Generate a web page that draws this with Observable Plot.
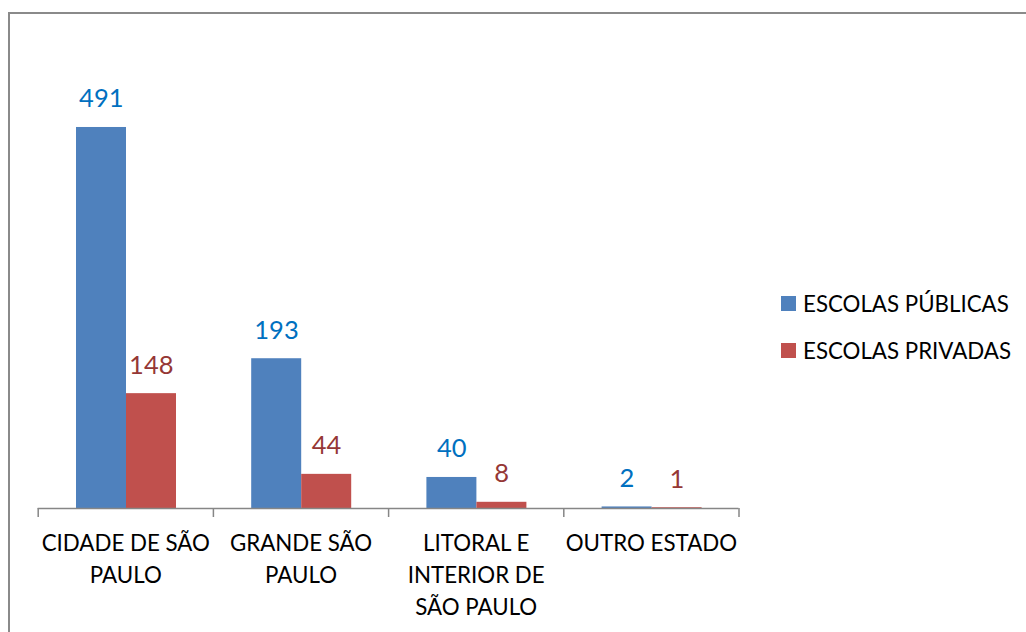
<!DOCTYPE html>
<html><head><meta charset="utf-8">
<script src="https://cdn.jsdelivr.net/npm/d3@7"></script>
<script src="https://cdn.jsdelivr.net/npm/@observablehq/plot@0.6"></script>
<style>
body{margin:0;background:#fff;}
#wrap{position:relative;width:1026px;height:632px;overflow:hidden;font-family:Lato,sans-serif;}
#border{position:absolute;left:8px;top:12px;width:2000px;height:2000px;border-left:2px solid #8a8a8a;border-top:2px solid #8a8a8a;box-sizing:border-box;}
#chart{position:absolute;left:0;top:0;}
#legend{position:absolute;left:781px;top:280px;font-size:22.3px;color:#000;}
.row{display:flex;align-items:center;height:47px;}
.sw{width:15px;height:15px;margin-right:7px;}
</style></head>
<body><div id="wrap"><div id="border"></div><div id="chart"></div><div id="legend"></div></div>
<script>
const categories = ["CIDADE DE SÃO\nPAULO", "GRANDE SÃO\nPAULO", "LITORAL E\nINTERIOR DE\nSÃO PAULO", "OUTRO ESTADO"];
const series = ["ESCOLAS PÚBLICAS", "ESCOLAS PRIVADAS"];
const publicas = [491, 193, 40, 2];
const privadas = [148, 44, 8, 1];
const barColors = ["#4F81BD", "#C0504D"];
const labelColors = ["#0070C0", "#953735"];

const rows = categories.map((c, i) => ({cat: c, i, publicas: publicas[i], privadas: privadas[i]}));
const font = "Lato, sans-serif";

const chart = Plot.plot({
  width: 1026,
  height: 632,
  marginLeft: 37.7,
  marginRight: 287.5,
  marginTop: 42.4,
  marginBottom: 124,
  style: {fontFamily: font, background: "transparent", overflow: "visible"},
  x: {domain: [0, categories.length]},
  y: {domain: [0, 600], axis: null},
  marks: [
    Plot.rectY(rows, {x1: "i", x2: d => d.i + 1, y: "publicas", fill: barColors[0], insetLeft: 38.3, insetRight: 86.9}),
    Plot.rectY(rows, {x1: "i", x2: d => d.i + 1, y: "privadas", fill: barColors[1], insetLeft: 88.3, insetRight: 36.9}),
    Plot.ruleY([0], {stroke: "#868686", strokeWidth: 1.5}),
    Plot.axisX({ticks: d3.range(categories.length + 1), tickSize: 9, tickFormat: () => "", stroke: "#868686", strokeWidth: 1.5, label: null}),
    Plot.text(rows, {x: d => d.i + 0.5, y: "publicas", text: d => String(d.publicas), dx: -24.5, dy: -20, lineAnchor: "bottom", fill: labelColors[0], fontSize: 25.5}),
    Plot.text(rows, {x: d => d.i + 0.5, y: "privadas", text: d => String(d.privadas), dx: 25.5, dy: -20, lineAnchor: "bottom", fill: labelColors[1], fontSize: 25.5}),
    Plot.text(rows, {x: d => d.i + 0.5, y: 0, text: "cat", lineAnchor: "top", dy: 20, lineHeight: 1.43, fill: "#000", fontSize: 22.3})
  ]
});
document.getElementById("chart").appendChild(chart);

const legend = document.getElementById("legend");
series.forEach((s, k) => {
  const r = document.createElement("div"); r.className = "row";
  const sw = document.createElement("div"); sw.className = "sw"; sw.style.background = barColors[k];
  const t = document.createElement("span"); t.textContent = s;
  r.appendChild(sw); r.appendChild(t); legend.appendChild(r);
});
</script>
</body></html>
